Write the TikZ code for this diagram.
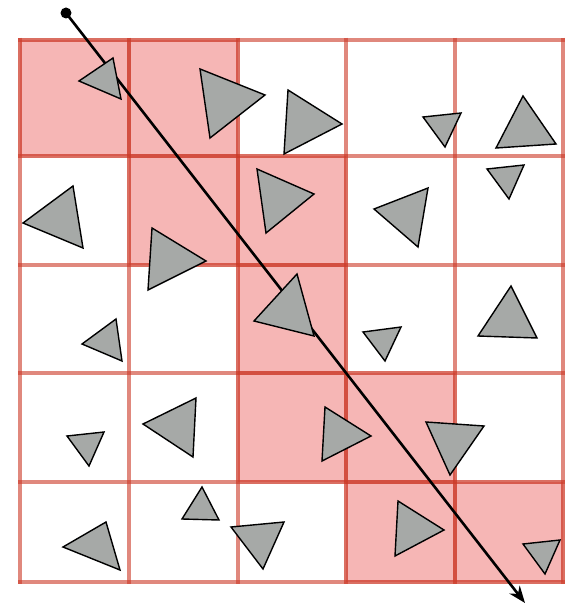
\documentclass[tikz,border=0pt]{standalone}
\usetikzlibrary{arrows.meta}
\definecolor{cellpink}{RGB}{246,182,181}
\definecolor{gridred}{RGB}{204,56,38}
\definecolor{trigray}{RGB}{166,169,167}
\tikzset{
  gridline/.style={draw=gridred, draw opacity=0.6, line width=4.5pt},
  hitcell/.style={fill=cellpink},
  hitborder/.style={draw=gridred, draw opacity=0.3, line width=4.5pt},
  tri/.style={fill=trigray, draw=black, line width=1.4pt, line join=miter},
  ray/.style={draw=black, line width=2.6pt, -{Stealth[length=17pt,width=13pt]}},
}
\begin{document}
\begin{tikzpicture}[x=1pt,y=-1pt]
\useasboundingbox (0,0) rectangle (583,612);
% hit cells
\def\xa{20}\def\xb{129}\def\xc{238}\def\xd{346}\def\xe{455}\def\xf{563}
\def\ya{40}\def\yb{156}\def\yc{265}\def\yd{373}\def\ye{482}\def\yf{582}
\foreach \x/\X/\y/\Y in {\xa/\xb/\ya/\yb, \xb/\xc/\ya/\yb, \xb/\xc/\yb/\yc, \xc/\xd/\yb/\yc, \xc/\xd/\yc/\yd, \xc/\xd/\yd/\ye, \xd/\xe/\yd/\ye, \xd/\xe/\ye/\yf, \xe/\xf/\ye/\yf}
  \path[hitcell] (\x,\y) rectangle (\X,\Y);
% grid
\foreach \x in {\xa,\xb,\xc,\xd,\xe,\xf}
  \path[gridline] (\x,\ya-2.25) -- (\x,\yf+2.25);
\foreach \y in {\ya,\yb,\yc,\yd,\ye,\yf}
  \path[gridline] (\xa-2.25,\y) -- (\xf+2.25,\y);
\foreach \x/\X/\y/\Y in {\xa/\xb/\ya/\yb, \xb/\xc/\ya/\yb, \xb/\xc/\yb/\yc, \xc/\xd/\yb/\yc, \xc/\xd/\yc/\yd, \xc/\xd/\yd/\ye, \xd/\xe/\yd/\ye, \xd/\xe/\ye/\yf, \xe/\xf/\ye/\yf}
  \path[hitborder] (\x,\y) rectangle (\X,\Y);
% ray
\coordinate (rs) at (66,13);
\coordinate (re) at (525,603);
\path[ray] (rs) -- (re);
\fill (rs) circle (5.5pt);
% triangles
\foreach \p in {
  {(79,81) -- (113,58) -- (121,99)},
  {(200,69) -- (265,95) -- (210,138)},
  {(288,90) -- (342,124) -- (284,154)},
  {(423,117) -- (461,113) -- (445,147)},
  {(523,96) -- (556,144) -- (496,148)},
  {(23,223) -- (73,186) -- (83,248)},
  {(257,169) -- (314,194) -- (266,233)},
  {(374,209) -- (428,188) -- (418,247)},
  {(487,169) -- (524,165) -- (509,199)},
  {(152,228) -- (206,261) -- (148,290)},
  {(297,274) -- (314,336) -- (254,321)},
  {(82,344) -- (116,319) -- (122,361)},
  {(363,332) -- (401,327) -- (385,361)},
  {(511,286) -- (537,338) -- (478,336)},
  {(67,436) -- (104,432) -- (89,466)},
  {(143,424) -- (196,398) -- (193,457)},
  {(325,407) -- (371,436) -- (322,461)},
  {(426,422) -- (484,426) -- (450,475)},
  {(63,547) -- (106,522) -- (120,570)},
  {(202,487) -- (219,520) -- (182,519)},
  {(231,527) -- (284,522) -- (263,569)},
  {(398,501) -- (444,530) -- (395,556)},
  {(523,544) -- (560,540) -- (545,574)}}
  \path[tri] \p -- cycle;
\end{tikzpicture}
\end{document}
